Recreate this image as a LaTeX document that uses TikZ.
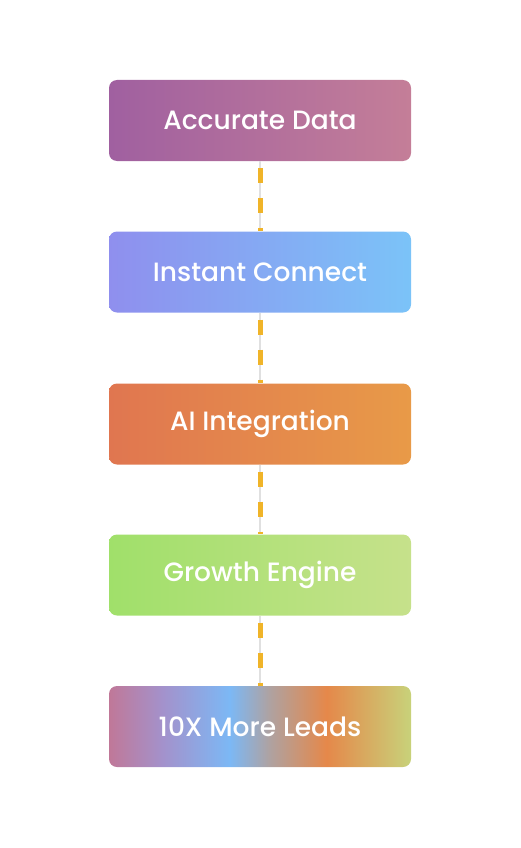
\documentclass[tikz,border=0pt]{standalone}
\usepackage{fontspec}
\newfontfamily\stagefont{Poppins Medium}
\usepackage{xcolor}
\usepackage{tikz}
\usetikzlibrary{positioning,calc}
\definecolor{adl}{HTML}{A060A0}
\definecolor{adr}{HTML}{C47E98}
\definecolor{icl}{HTML}{8F8FEE}
\definecolor{icr}{HTML}{7BC3F8}
\definecolor{ail}{HTML}{E07650}
\definecolor{air}{HTML}{E89A48}
\definecolor{gel}{HTML}{A0E06A}
\definecolor{ger}{HTML}{C6E18B}
\definecolor{lnk}{HTML}{F0B429}
\definecolor{rail}{HTML}{E0E0E0}
\definecolor{mxa}{HTML}{C07898}
\definecolor{mxb}{HTML}{A392CC}
\definecolor{mxc}{HTML}{7CB8F5}
\definecolor{mxd}{HTML}{AEA2A2}
\definecolor{mxe}{HTML}{E5884A}
\definecolor{mxf}{HTML}{C8D27A}
\pgfdeclarehorizontalshading{leadsmix}{100bp}{%
  color(0bp)=(mxa); color(25bp)=(mxa); color(34bp)=(mxb); color(45bp)=(mxc);
  color(51.5bp)=(mxd); color(61bp)=(mxe); color(75bp)=(mxf); color(100bp)=(mxf)}

\begin{document}
\begin{tikzpicture}[x=1pt, y=-1pt,
  stage/.style={rounded corners=8pt, minimum width=302pt, minimum height=81pt,
                inner sep=0pt, text=white, font=\stagefont\fontsize{26.5}{30}\selectfont},
  rail/.style={draw=rail, line width=2.5pt},
  link/.style={draw=lnk, line width=5pt, dash pattern=on 15pt off 15pt, dash phase=23pt}]
  \useasboundingbox (0,0) rectangle (520,848);
  % --- funnel stages, top to bottom
  \node[stage, left color=adl, right color=adr] (data)  at (260,120.5) {Accurate Data};
  \node[stage, left color=icl, right color=icr] (conn)  at (260,272)   {Instant Connect};
  \node[stage, left color=ail, right color=air] (ai)    at (260,424)   {AI Integration};
  \node[stage, left color=gel, right color=ger] (grow)  at (260,575)   {Growth Engine};
  \node[stage, shading=leadsmix]                (leads) at (260,726.5) {10X More Leads};
  % --- dashed links between stages
  \foreach \a/\b in {data/conn, conn/ai, ai/grow, grow/leads}{
    \draw[rail] (\a.south) -- (\b.north);
    \draw[link] (\a.south) -- (\b.north);
  }
\end{tikzpicture}
\end{document}
